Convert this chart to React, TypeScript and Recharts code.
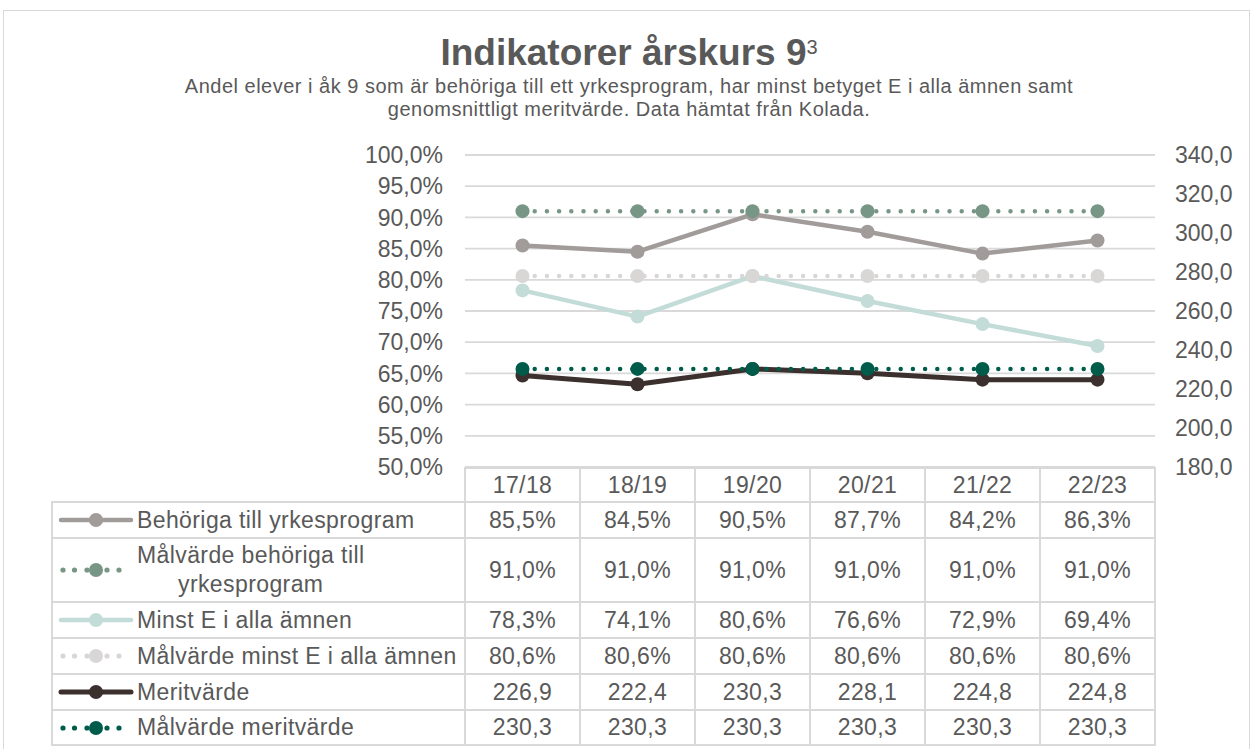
import React from 'react';
import { LineChart, Line, XAxis, YAxis, CartesianGrid } from 'recharts';

const categories = ['17/18', '18/19', '19/20', '20/21', '21/22', '22/23'];
const behoriga = [85.5, 84.5, 90.5, 87.7, 84.2, 86.3];
const malBehoriga = [91.0, 91.0, 91.0, 91.0, 91.0, 91.0];
const minstE = [78.3, 74.1, 80.6, 76.6, 72.9, 69.4];
const malMinstE = [80.6, 80.6, 80.6, 80.6, 80.6, 80.6];
const merit = [226.9, 222.4, 230.3, 228.1, 224.8, 224.8];
const malMerit = [230.3, 230.3, 230.3, 230.3, 230.3, 230.3];
const leftTicks = [50, 55, 60, 65, 70, 75, 80, 85, 90, 95, 100];
const rightTicks = [180, 200, 220, 240, 260, 280, 300, 320, 340];
const seriesNames = [
  'Behöriga till yrkesprogram',
  'Målvärde behöriga till\nyrkesprogram',
  'Minst E i alla ämnen',
  'Målvärde minst E i alla ämnen',
  'Meritvärde',
  'Målvärde meritvärde',
];
const titleText = 'Indikatorer årskurs 9';
const titleSup = '3';
const subtitleText =
  'Andel elever i åk 9 som är behöriga till ett yrkesprogram, har minst betyget E i alla ämnen samt genomsnittligt meritvärde. Data hämtat från Kolada.';

const fmtNum = (v: number) => v.toFixed(1).replace('.', ',');
const fmtPct = (v: number) => fmtNum(v) + '%';

const series = [
  { key: 'behoriga', values: behoriga, axis: 'left', color: '#a19b9a', dotted: false, width: 4.5, fmt: fmtPct },
  { key: 'malBehoriga', values: malBehoriga, axis: 'left', color: '#789686', dotted: true, width: 4.5, fmt: fmtPct },
  { key: 'minstE', values: minstE, axis: 'left', color: '#c3dcd8', dotted: false, width: 4.5, fmt: fmtPct },
  { key: 'malMinstE', values: malMinstE, axis: 'left', color: '#d9d6d6', dotted: true, width: 4.5, fmt: fmtPct },
  { key: 'merit', values: merit, axis: 'right', color: '#3b302d', dotted: false, width: 5, fmt: fmtNum },
  { key: 'malMerit', values: malMerit, axis: 'right', color: '#005c4a', dotted: true, width: 4.5, fmt: fmtNum },
];

const data = categories.map((cat, i) => {
  const row: Record<string, string | number> = { cat };
  series.forEach((s) => {
    row[s.key] = s.values[i];
  });
  return row;
});

const TEXT = '#595959';
const GRID = '#d9d9d9';
const FONT = '"Liberation Sans", Arial, sans-serif';

// layout of data table
const colX = [52, 465, 580, 695, 810, 925, 1040, 1155];
const rowY = [468, 502, 538, 602, 638, 674, 710, 745];

function LegendKey({ color, dotted, width }: { color: string; dotted: boolean; width: number }) {
  return (
    <svg width={76} height={18} style={{ display: 'block', flex: '0 0 auto' }}>
      {dotted ? (
        <g fill={color}>
          <circle cx={5} cy={9} r={2.6} />
          <circle cx={16.5} cy={9} r={2.6} />
          <circle cx={29} cy={9} r={2.6} />
          <circle cx={49} cy={9} r={2.6} />
          <circle cx={61} cy={9} r={2.6} />
        </g>
      ) : (
        <line x1={3} y1={9} x2={73} y2={9} stroke={color} strokeWidth={width} strokeLinecap="round" />
      )}
      <circle cx={38} cy={9} r={7} fill={color} />
    </svg>
  );
}

function Cell({ x0, x1, y0, y1, children, justify = 'center' }: any) {
  return (
    <div
      style={{
        position: 'absolute',
        left: x0 - 1,
        top: y0 - 1,
        width: x1 - x0 + 2,
        height: y1 - y0 + 2,
        boxSizing: 'border-box',
        border: `2px solid ${GRID}`,
        display: 'flex',
        alignItems: 'center',
        justifyContent: justify,
        fontSize: 23,
        letterSpacing: 0.4,
        color: TEXT,
      }}
    >
      {children}
    </div>
  );
}

export default function App() {
  return (
    <div
      style={{
        position: 'absolute',
        left: 0,
        top: 0,
        width: 1253,
        height: 749,
        background: '#fff',
        overflow: 'hidden',
        fontFamily: FONT,
      }}
    >
      <div
        style={{
          position: 'absolute',
          left: 3,
          top: 10,
          width: 1247,
          height: 800,
          boxSizing: 'border-box',
          border: `1.5px solid ${GRID}`,
        }}
      />
      <div
        style={{
          position: 'absolute',
          left: 229,
          top: 34,
          width: 800,
          textAlign: 'center',
          fontSize: 37,
          lineHeight: '37px',
          fontWeight: 'bold',
          color: TEXT,
        }}
      >
        {titleText}
        <span style={{ fontSize: 20, fontWeight: 'normal', verticalAlign: 'top', lineHeight: '20px', position: 'relative', top: 3 }}>
          {titleSup}
        </span>
      </div>
      <div
        style={{
          position: 'absolute',
          left: 169,
          top: 75,
          width: 920,
          textAlign: 'center',
          fontSize: 20,
          letterSpacing: 0.5,
          lineHeight: '23px',
          color: TEXT,
        }}
      >
        {subtitleText}
      </div>

      <div style={{ position: 'absolute', left: 0, top: 0 }}>
        <LineChart
          width={1253}
          height={749}
          data={data}
          margin={{ top: 155, bottom: 282, left: 365, right: 18 }}
        >
          <CartesianGrid yAxisId="left" vertical={false} stroke={GRID} strokeWidth={1.8} />
          <XAxis dataKey="cat" hide padding={{ left: 57.5, right: 57.5 }} />
          <YAxis
            yAxisId="left"
            width={100}
            domain={[50, 100]}
            ticks={leftTicks}
            interval={0}
            axisLine={false}
            tickLine={false}
            tickMargin={16}
            tickFormatter={fmtPct}
            tick={{ fill: TEXT, fontSize: 23, fontFamily: FONT }}
          />
          <YAxis
            yAxisId="right"
            orientation="right"
            width={80}
            domain={[180, 340]}
            ticks={rightTicks}
            interval={0}
            axisLine={false}
            tickLine={false}
            tickMargin={14}
            tickFormatter={fmtNum}
            tick={{ fill: TEXT, fontSize: 23, fontFamily: FONT }}
          />
          {series.map((s) => (
            <Line
              key={s.key}
              yAxisId={s.axis}
              dataKey={s.key}
              type="linear"
              stroke={s.color}
              strokeWidth={s.width}
              strokeDasharray={s.dotted ? '0 12.2' : undefined}
              strokeLinecap="round"
              strokeLinejoin="round"
              dot={{ r: 7, fill: s.color, stroke: 'none', strokeWidth: 0, strokeDasharray: 'none' }}
              activeDot={false}
              isAnimationActive={false}
            />
          ))}
        </LineChart>
      </div>

      {categories.map((c, i) => (
        <Cell key={'h' + c} x0={colX[i + 1]} x1={colX[i + 2]} y0={rowY[0]} y1={rowY[1]}>
          {c}
        </Cell>
      ))}
      {series.map((s, r) => (
        <React.Fragment key={'r' + s.key}>
          <Cell x0={colX[0]} x1={colX[1]} y0={rowY[r + 1]} y1={rowY[r + 2]} justify="flex-start">
            <div style={{ display: 'flex', alignItems: 'center', paddingLeft: 5 }}>
              <LegendKey color={s.color} dotted={s.dotted} width={s.width} />
              <span
                style={{
                  display: 'inline-block',
                  whiteSpace: 'pre-line',
                  textAlign: 'center',
                  lineHeight: '29px',
                  marginLeft: 3,
                }}
              >
                {seriesNames[r]}
              </span>
            </div>
          </Cell>
          {s.values.map((v, i) => (
            <Cell key={s.key + i} x0={colX[i + 1]} x1={colX[i + 2]} y0={rowY[r + 1]} y1={rowY[r + 2]}>
              {s.fmt(v)}
            </Cell>
          ))}
        </React.Fragment>
      ))}
    </div>
  );
}
